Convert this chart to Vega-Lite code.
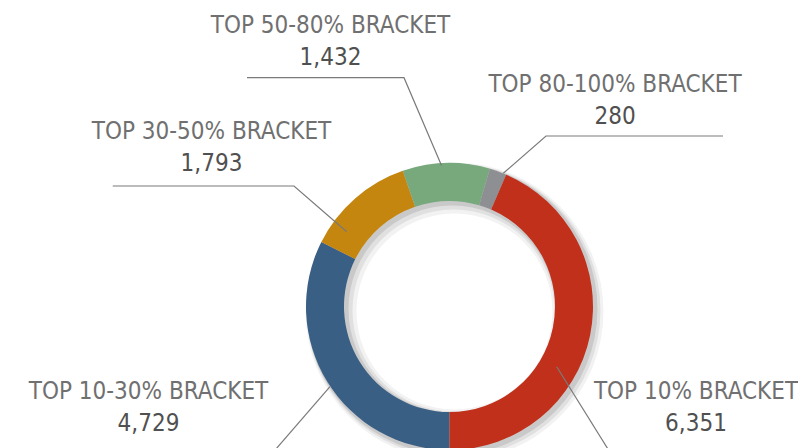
{
  "$schema": "https://vega.github.io/schema/vega-lite/v6.json",
  "width": 798,
  "height": 448,
  "autosize": "none",
  "padding": 0,
  "background": "white",
  "config": {"view": {"stroke": null}},
  "datasets": {
    "brackets": [
      {"bracket": "TOP 10-30% BRACKET", "value": 4729, "rank": 1},
      {"bracket": "TOP 30-50% BRACKET", "value": 1793, "rank": 2},
      {"bracket": "TOP 50-80% BRACKET", "value": 1432, "rank": 3},
      {"bracket": "TOP 80-100% BRACKET", "value": 280, "rank": 4},
      {"bracket": "TOP 10% BRACKET", "value": 6351, "rank": 5}
    ],
    "labels": [
      {"bracket": "TOP 50-80% BRACKET", "value": 1432, "lx": -119, "ly": 273.2},
      {"bracket": "TOP 80-100% BRACKET", "value": 280, "lx": 165.5, "ly": 214.8},
      {"bracket": "TOP 30-50% BRACKET", "value": 1793, "lx": -238, "ly": 167.5},
      {"bracket": "TOP 10-30% BRACKET", "value": 4729, "lx": -301, "ly": -92.8},
      {"bracket": "TOP 10% BRACKET", "value": 6351, "lx": 246.5, "ly": -92.8}
    ],
    "leaders": [
      {"leader": "50-80", "step": 1, "px": -202.5, "py": 228.8},
      {"leader": "50-80", "step": 2, "px": -45.5, "py": 228.8},
      {"leader": "50-80", "step": 3, "px": -8, "py": 141},
      {"leader": "80-100", "step": 1, "px": 273.5, "py": 170.5},
      {"leader": "80-100", "step": 2, "px": 96.5, "py": 170.5},
      {"leader": "80-100", "step": 3, "px": 53.8, "py": 133.2},
      {"leader": "30-50", "step": 1, "px": -336.8, "py": 120.5},
      {"leader": "30-50", "step": 2, "px": -155.5, "py": 120.5},
      {"leader": "30-50", "step": 3, "px": -102.8, "py": 74.8},
      {"leader": "10-30", "step": 1, "px": -119.5, "py": -80.2},
      {"leader": "10-30", "step": 2, "px": -188.7, "py": -160},
      {"leader": "10", "step": 1, "px": 107.2, "py": -60.2},
      {"leader": "10", "step": 2, "px": 169.3, "py": -160}
    ]
  },
  "layer": [
    {
      "data": {"values": [{"shadow": 1}]},
      "mark": {"type": "arc", "theta": 0, "theta2": 6.2832, "outerRadius": 149, "innerRadius": 98, "fill": "black", "opacity": 0.05},
      "encoding": {
        "x": {"datum": 5, "type": "quantitative", "scale": {"domain": [-449.5, 348.5], "nice": false, "zero": false}, "axis": null},
        "y": {"datum": -5, "type": "quantitative", "scale": {"domain": [-141.5, 306.5], "nice": false, "zero": false}, "axis": null}
      }
    },
    {
      "data": {"values": [{"shadow": 2}]},
      "mark": {"type": "arc", "theta": 0, "theta2": 6.2832, "outerRadius": 147, "innerRadius": 101, "fill": "black", "opacity": 0.07},
      "encoding": {
        "x": {"datum": 4, "type": "quantitative", "axis": null},
        "y": {"datum": -4, "type": "quantitative", "axis": null}
      }
    },
    {
      "data": {"values": [{"shadow": 3}]},
      "mark": {"type": "arc", "theta": 0, "theta2": 6.2832, "outerRadius": 145.5, "innerRadius": 103.5, "fill": "black", "opacity": 0.1},
      "encoding": {
        "x": {"datum": 2.5, "type": "quantitative", "axis": null},
        "y": {"datum": -2.5, "type": "quantitative", "axis": null}
      }
    },
    {
      "data": {"name": "brackets"},
      "mark": {"type": "arc", "outerRadius": 143.5, "innerRadius": 105.5},
      "encoding": {
        "theta": {"field": "value", "type": "quantitative", "stack": true, "scale": {"range": [3.14159265, 9.42477796]}},
        "order": {"field": "rank", "type": "quantitative"},
        "color": {
          "field": "bracket",
          "type": "nominal",
          "scale": {
            "domain": ["TOP 10-30% BRACKET", "TOP 30-50% BRACKET", "TOP 50-80% BRACKET", "TOP 80-100% BRACKET", "TOP 10% BRACKET"],
            "range": ["#3a5f84", "#c4860f", "#77a97d", "#8e8f93", "#c0301b"]
          },
          "legend": null
        },
        "x": {"datum": 0, "type": "quantitative", "axis": null},
        "y": {"datum": 0, "type": "quantitative", "axis": null}
      }
    },
    {
      "data": {"name": "leaders"},
      "mark": {"type": "line", "color": "#7a7a7a", "strokeWidth": 1.2},
      "encoding": {
        "x": {"field": "px", "type": "quantitative", "axis": null},
        "y": {"field": "py", "type": "quantitative", "axis": null},
        "detail": {"field": "leader", "type": "nominal"},
        "order": {"field": "step", "type": "quantitative"}
      }
    },
    {
      "data": {"name": "labels"},
      "mark": {"type": "text", "font": "Liberation Sans Narrow, DejaVu Sans Condensed, sans-serif", "fontSize": 24, "fill": "#707070", "align": "center", "baseline": "alphabetic"},
      "encoding": {
        "x": {"field": "lx", "type": "quantitative", "axis": null},
        "y": {"field": "ly", "type": "quantitative", "axis": null},
        "text": {"field": "bracket", "type": "nominal"}
      }
    },
    {
      "data": {"name": "labels"},
      "mark": {"type": "text", "font": "Liberation Sans Narrow, DejaVu Sans Condensed, sans-serif", "fontSize": 24, "fill": "#505050", "align": "center", "baseline": "alphabetic", "dy": 32},
      "encoding": {
        "x": {"field": "lx", "type": "quantitative", "axis": null},
        "y": {"field": "ly", "type": "quantitative", "axis": null},
        "text": {"field": "value", "type": "quantitative", "format": ","}
      }
    }
  ]
}
